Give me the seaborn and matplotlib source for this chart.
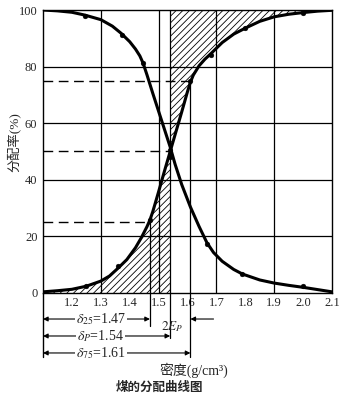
import matplotlib
matplotlib.use("Agg")
import matplotlib.pyplot as plt
import seaborn as sns
import pandas as pd

# ---------------- data ----------------
up_density = [1.10, 1.15, 1.20, 1.25, 1.30, 1.33, 1.36, 1.39, 1.42, 1.44, 1.46,
              1.47, 1.48, 1.50, 1.52, 1.54, 1.56, 1.58, 1.60, 1.61, 1.62, 1.64,
              1.66, 1.68, 1.72, 1.76, 1.80, 1.85, 1.90, 1.95, 2.00, 2.05, 2.10]
up_rate = [0.4, 0.8, 1.3, 2.4, 4.2, 6.0, 8.8, 11.8, 16.0, 19.5, 23.5,
           25.8, 28.8, 35.8, 43.0, 50.0, 57.0, 64.0, 71.2, 74.5, 77.0, 80.3,
           82.6, 84.5, 88.5, 91.5, 93.6, 96.0, 97.6, 98.5, 99.1, 99.6, 99.9]

down_density = [1.10, 1.15, 1.20, 1.245, 1.30, 1.34, 1.37, 1.40, 1.42, 1.435,
                1.446, 1.46, 1.48, 1.50, 1.52, 1.54, 1.557, 1.58, 1.61, 1.64,
                1.667, 1.69, 1.72, 1.76, 1.79, 1.85, 1.90, 1.95, 2.00, 2.05, 2.10]
down_rate = [100.0, 99.7, 99.2, 98.2, 96.6, 94.3, 91.8, 88.8, 86.2, 83.8,
             81.3, 77.0, 70.5, 64.2, 57.9, 51.6, 45.5, 38.3, 30.4, 23.5,
             17.8, 14.3, 11.2, 8.3, 6.7, 4.6, 3.5, 2.7, 2.0, 1.2, 0.4]

up_pt_density = [1.25, 1.36, 1.47, 1.54, 1.61, 1.68, 1.80, 2.00]
up_pt_rate = [2.5, 9.5, 25.8, 50.5, 75.0, 84.2, 93.6, 98.9]
down_pt_density = [1.245, 1.373, 1.446, 1.54, 1.667, 1.79, 2.00]
down_pt_rate = [97.9, 91.2, 81.3, 48.0, 17.3, 6.7, 2.3]

x_ticks = [1.2, 1.3, 1.4, 1.5, 1.6, 1.7, 1.8, 1.9, 2.0, 2.1]
x_tick_labels = ["1.2", "1.3", "1.4", "1.5", "1.6", "1.7", "1.8", "1.9", "2.0", "2.1"]
y_ticks = [0, 20, 40, 60, 80, 100]
grid_x = [1.3, 1.5, 1.7, 1.9]
grid_y = [20, 40, 60, 80]

cut_density = [1.47, 1.54, 1.61]
cut_rate = [25, 50, 75]
cut_labels = [r"$\delta_{25}$=1.47", r"$\delta_{P}$=1.54", r"$\delta_{75}$=1.61"]

x_label = "密度(g/cm³)"
y_label = "分配率(%)"
title = "煤的分配曲线图"

# ---------------- style ----------------
sns.set_style("white")
plt.rcParams["font.family"] = ["Liberation Serif", "Noto Sans CJK SC", "DejaVu Sans"]
plt.rcParams["mathtext.fontset"] = "stix"
plt.rcParams["hatch.linewidth"] = 0.6
plt.rcParams["hatch.color"] = "black"

fig = plt.figure(figsize=(3.43, 4.04), dpi=100)
ax = fig.add_axes([0.1254, 0.2748, 0.8426, 0.7004])
ax.set_xlim(1.1, 2.1)
ax.set_ylim(0, 100)

df_up = pd.DataFrame({"density": up_density, "rate": up_rate})
df_down = pd.DataFrame({"density": down_density, "rate": down_rate})

# hatched regions
left = df_up[df_up["density"] <= 1.54]
right = df_up[df_up["density"] >= 1.54]
ax.fill_between(left["density"], 0, left["rate"], facecolor="none",
                edgecolor="black", hatch="/////", linewidth=0, zorder=1)
ax.fill_between(right["density"], right["rate"], 100, facecolor="none",
                edgecolor="black", hatch="/////", linewidth=0, zorder=1)

# grid
for gx in grid_x:
    ax.axvline(gx, color="black", lw=0.9, zorder=2)
for gy in grid_y:
    ax.axhline(gy, color="black", lw=0.9, zorder=2)
ax.axvline(cut_density[1], color="black", lw=0.9, zorder=2)

# partial verticals and below-axis extensions
below = [-11.5, -16.0, -22.6]
for d, r, b in zip(cut_density, cut_rate, below):
    top = r if d != cut_density[1] else 0
    ax.plot([d, d], [top, b], color="black", lw=0.9, clip_on=False, zorder=2)
ax.plot([1.1, 1.1], [0, -22.6], color="black", lw=1.0, clip_on=False)

# dashed level lines
for d, r in zip(cut_density, cut_rate):
    ax.plot([1.1, d], [r, r], color="black", lw=1.0, ls=(0, (7, 4)), zorder=2)

# curves
sns.lineplot(data=df_up, x="density", y="rate", ax=ax, color="black", lw=2.2,
             estimator=None, zorder=4)
sns.lineplot(data=df_down, x="density", y="rate", ax=ax, color="black", lw=2.2,
             estimator=None, zorder=4)
sns.scatterplot(x=up_pt_density, y=up_pt_rate, ax=ax, color="black", s=12,
                edgecolor="black", zorder=5)
sns.scatterplot(x=down_pt_density, y=down_pt_rate, ax=ax, color="black", s=12,
                edgecolor="black", zorder=5)

# axes
for sp in ax.spines.values():
    sp.set_color("black")
    sp.set_linewidth(1.0)
ax.set_xticks(x_ticks)
ax.set_xticklabels(x_tick_labels, fontsize=9)
ax.set_yticks(y_ticks)
ax.set_yticklabels([str(v) for v in y_ticks], fontsize=9)
ax.tick_params(axis="x", direction="in", length=3, pad=3, color="black")
ax.tick_params(axis="y", length=2, pad=2, color="black")
ax.set_xlabel("")
ax.set_ylabel("")

# arrows below axis
rows = [-9.2, -15.2, -21.2]
for d, yrow, lab in zip(cut_density, rows, cut_labels):
    ax.annotate("", xy=(1.1, yrow), xytext=(d, yrow), annotation_clip=False,
                arrowprops=dict(arrowstyle="<|-|>", color="black", lw=0.8,
                                shrinkA=0, shrinkB=0, mutation_scale=7))
    ax.text(1.30, yrow, lab, ha="center", va="center", fontsize=10,
            clip_on=False, bbox=dict(facecolor="white", edgecolor="none", pad=0.8))
ax.annotate("", xy=(cut_density[2], rows[0]), xytext=(1.69, rows[0]),
            annotation_clip=False,
            arrowprops=dict(arrowstyle="-|>", color="black", lw=0.8,
                            shrinkA=0, shrinkB=0, mutation_scale=7))
ax.text(1.546, -12.0, r"$2E_P$", ha="center", va="center", fontsize=9.5,
        clip_on=False)

fig.text(0.566, 0.084, x_label, ha="center", va="center", fontsize=10)
fig.text(0.466, 0.040, title, ha="center", va="center", fontsize=9,
         fontweight="bold")
fig.text(0.041, 0.648, y_label, ha="center", va="center", fontsize=9.5,
         rotation=90)

fig.savefig("out.png", dpi=100, facecolor="white")
